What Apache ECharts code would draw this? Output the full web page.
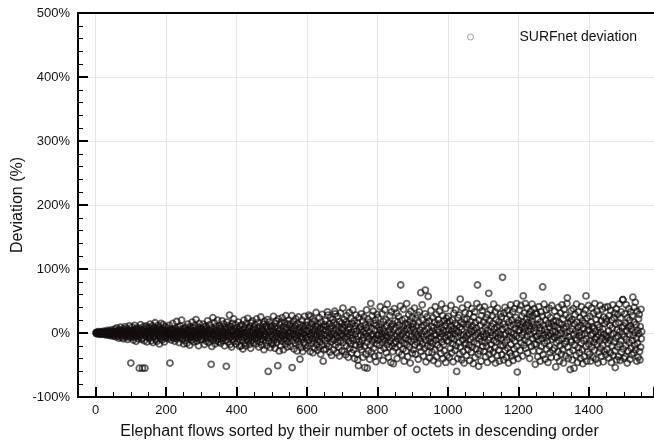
<!DOCTYPE html>
<html>
<head>
<meta charset="utf-8">
<script src="https://cdn.jsdelivr.net/npm/echarts@6/dist/echarts.min.js"></script>
<style>
  html, body { margin: 0; padding: 0; background: #fff; }
  #chart { width: 654px; height: 445px; }
</style>
</head>
<body>
<div id="chart"></div>
<script>
const seriesName = 'SURFnet deviation'
const xName = 'Elephant flows sorted by their number of octets in descending order'
const yName = 'Deviation (%)'
const firstRank = 1
// deviation (%) of each elephant flow, in rank order, 50 flows per row
const deviation = [
  0,1,-1,0,1,-1,0,2,-1,0,1,-2,0,1,-1,2,0,-1,1,-2,0,1,-1,3,-2,0,2,-1,1,-3,0,2,-2,4,-1,1,-3,2,0,-4,3,-1,1,-2,5,-3,0,2,-5,1,
  2,-4,1,6,-2,0,-6,3,-1,8,-3,2,-5,4,0,-8,1,5,-2,-1,9,-4,3,-7,0,2,-3,6,-9,1,4,-2,-5,10,0,-3,7,-6,2,-1,-10,5,3,-4,1,11,-7,0,-2,-47,
  4,-6,1,9,-3,0,-11,5,2,-7,12,-1,-4,6,-13,3,0,8,-5,2,-9,4,-2,-55,7,-6,1,13,-3,-10,5,0,-55,-8,3,10,-2,-12,6,-55,1,-5,11,-4,2,-14,8,-1,4,-7,
  -3,9,-8,2,14,-5,0,-12,6,3,-2,11,-15,4,-6,1,8,-4,16,-10,2,-1,7,-13,5,-3,12,0,-7,3,-17,9,-2,5,-9,15,-5,1,-11,6,-1,13,-6,4,-14,2,10,-8,0,-4,
  3,-5,8,-2,1,-9,4,-1,12,-6,-47,2,-4,6,-11,0,5,-3,15,-7,1,-8,-2,4,-13,7,-1,3,-5,18,-9,2,-6,0,9,-3,-15,5,-1,11,-4,-7,2,20,-2,-10,6,-3,1,-17,
  -4,7,-1,-12,3,9,-6,0,-16,5,-2,14,-8,1,-3,6,-19,-5,10,2,-7,4,-11,17,-1,-4,8,-14,0,3,-9,12,-2,-6,21,1,-13,5,-3,-8,9,-20,2,15,-5,-1,7,-10,4,-2,
  6,-3,-10,2,14,-7,-1,9,-18,4,-5,1,11,-13,-2,7,-8,19,-4,0,-15,5,-1,13,-9,3,-6,-49,8,-21,2,-3,24,-11,6,-1,16,-7,-17,4,-2,10,-12,1,-5,20,-9,3,-14,7,
  -6,11,-2,4,-16,8,-9,1,19,-4,-12,3,-7,14,0,-20,6,-3,9,-11,-52,2,17,-5,-14,7,-1,12,-8,28,-3,-18,5,10,-6,-22,1,15,-10,3,-4,22,-13,6,-1,-7,13,-17,2,-3,
  8,-4,-14,2,17,-9,-1,6,-21,11,-6,3,-20,-2,13,-11,5,-25,0,-7,20,-3,9,-16,1,-20,-5,15,-10,4,-1,23,-13,7,-4,-18,10,-8,2,-24,16,-2,-12,5,19,-6,1,-15,8,-3,
  -9,13,-3,5,-17,1,22,-7,-12,8,-2,16,-22,3,-5,10,-14,-1,25,-9,4,-19,7,-4,-11,14,2,-26,-6,18,-1,9,-15,-3,12,-20,6,21,-8,-60,1,-13,17,-5,3,-23,10,-2,-16,6,
  11,-6,-18,4,26,-12,-2,9,-24,15,-7,1,19,-15,-4,7,-51,-10,22,3,-28,-1,13,-8,6,-20,17,-3,-13,24,-5,2,-26,10,-9,-2,16,-17,5,27,-11,-4,8,-22,14,1,-14,20,-6,-1,
  -8,14,3,-21,9,-3,27,-54,-12,5,-1,18,-25,7,-6,11,-16,22,-2,-9,4,-28,15,-4,-13,25,1,-18,8,-41,-5,13,-23,2,-10,20,-7,-29,10,-1,6,-15,26,-3,-19,12,-8,3,-24,17,
  -6,12,-20,3,28,-11,-2,8,-29,26,-4,15,-16,1,-9,22,-31,6,-13,-1,18,-24,4,11,-7,32,-18,-3,9,-27,14,-10,2,-22,24,-5,-14,7,-33,17,-1,-8,29,-19,5,-44,10,-26,-3,13,
  -12,19,4,-25,-3,10,-17,33,-8,28,1,-21,14,-6,-30,7,24,-14,-2,-35,11,-9,21,3,-26,16,-11,-1,34,30,-19,6,-4,13,-31,-7,26,-15,2,-22,9,-36,18,-5,31,-12,-1,15,-28,5,
  8,39,-15,-4,21,-29,12,-9,2,-34,17,-20,27,-6,-1,14,-38,5,-13,32,-24,9,-3,-17,23,1,-31,15,-8,36,-12,-26,6,19,-40,-2,11,-19,28,-10,3,-33,16,-42,-5,-51,24,-14,7,-22,
  -18,10,-3,30,-26,5,-12,19,-38,2,-7,25,-21,-54,13,-1,-33,8,36,-15,-55,-5,22,-28,11,-9,1,-41,17,-19,46,-4,-30,7,27,-13,-2,34,-24,15,-10,-36,4,20,-8,-45,12,-17,29,-3,
  -11,24,-3,-35,9,-19,4,41,-27,13,-6,-1,30,-15,7,-43,18,-9,-24,2,36,-12,-4,21,-31,11,-18,45,-7,1,-38,16,-22,5,27,-13,-2,-46,10,33,-8,-20,14,-29,-48,6,-16,38,-5,19,
  -23,8,-14,31,-4,-40,17,-9,2,26,-30,12,-19,-6,42,75,-12,5,-34,20,-1,-25,10,37,-16,-44,3,22,-8,15,-28,-3,46,-18,7,-37,13,-11,29,-2,-22,18,-47,4,34,-13,-6,24,-32,9,
  14,-26,6,-10,39,-19,1,-33,23,-5,11,-57,-15,28,-2,-41,17,-8,33,-22,4,-13,63,-29,9,-1,44,-17,20,-36,-6,12,-24,3,30,67,-11,-45,16,-3,25,-20,7,57,-30,-9,19,-39,1,-14,
  -21,35,-7,10,-30,3,-16,24,-43,8,-2,17,-26,41,-11,-4,29,-37,13,-19,6,-48,21,-9,1,34,-23,15,-6,-32,9,45,-14,-1,27,-40,4,-18,19,-28,12,-7,38,-46,2,23,-12,-35,16,-3,
  26,-13,5,-38,18,-2,-24,11,43,-8,-31,3,20,-17,-45,7,31,-10,-1,-27,15,36,-20,4,-60,12,-6,-40,24,1,-15,28,-33,9,53,-22,-4,17,-42,6,39,-11,-29,14,-3,-47,21,-18,32,-7,
  -16,9,-35,22,-4,44,-26,13,-1,-19,30,-43,6,-10,18,-30,2,38,-22,11,-7,-48,25,-14,4,33,-38,16,-3,-25,8,46,-17,75,1,-33,-52,20,-9,40,-28,12,-5,-44,27,-13,3,35,-21,-2,
  17,-29,-6,41,-15,8,-37,24,-2,-21,13,-46,29,4,-11,62,-33,19,-7,-26,36,1,-18,10,-41,27,-4,15,-30,45,-12,6,-23,33,-47,-1,21,-14,9,-35,39,-8,2,-27,18,-44,12,-3,30,-19,
  -9,25,-34,6,87,-20,14,-42,31,-3,-15,40,-27,9,-1,-38,22,-11,35,-24,3,-47,17,-6,28,-31,11,44,-18,1,-36,20,-8,33,-43,13,-2,-25,38,-13,7,-33,24,-5,46,-21,-61,15,-40,4,
  20,-8,36,4,-27,14,43,-15,9,26,-3,-36,17,58,1,-19,31,7,-11,46,-24,12,22,-5,39,-31,16,3,-14,29,11,-40,24,-2,34,6,-21,18,45,-9,27,-28,13,2,38,-17,8,-49,31,-6,
  -18,30,-5,13,-37,22,-11,41,-1,-28,8,-44,17,33,-21,4,-9,26,72,-34,12,-3,45,-16,6,-41,20,-7,36,-25,1,-13,28,-46,15,-4,39,-20,9,-31,24,-1,-38,14,43,-10,3,-27,18,-6,
  11,-24,34,-7,2,-53,19,-15,-38,26,-3,8,-29,40,-12,16,-44,5,-20,31,-1,-33,13,44,-9,-26,22,-47,7,37,-17,-4,28,-36,10,-13,1,46,55,-22,15,-40,-6,24,-30,3,-57,18,-11,35,
  -14,21,-42,6,-27,38,-2,-55,14,-19,29,-8,3,-35,45,-11,17,-46,9,-23,33,-5,-31,1,24,-40,12,-16,41,-3,-26,19,-48,7,30,-12,-37,15,-1,36,-21,58,-9,-44,23,4,-30,11,43,-18,
  5,-33,26,-12,-44,17,-4,39,-22,10,-1,-38,31,-15,7,-27,46,-9,2,-41,21,-6,34,-18,13,-47,-3,28,-30,9,-13,43,-24,1,19,-36,-8,37,-19,6,-45,25,-2,-29,15,40,-11,-34,22,-5,
  18,-26,-7,41,-16,3,-39,27,-11,12,-31,35,-3,-46,20,-20,8,44,-35,-1,24,-14,31,-28,-54,14,-8,38,-42,5,-22,29,-5,-37,16,45,-18,2,-43,23,-12,33,-30,9,-2,52,52,-25,11,-40,
  -6,30,-37,15,-20,44,-10,3,-47,24,-28,9,38,-15,-2,20,-41,11,33,-24,6,-34,27,-12,56,-4,-31,17,40,-19,1,48,-26,13,-8,-44,34,-16,4,-38,22,-1,29,-29,-42,10,-22,37,-9,2
]

const points = deviation.map((v, i) => [firstRank + i, v])
const fontFamily = '"Liberation Sans", Arial, Helvetica, sans-serif'
const XMIN = -50
const XMAX = 1585
const black = { color: '#000', width: 2 }
const thin = { color: '#000', width: 1 }

const chart = echarts.init(document.getElementById('chart'), null, { renderer: 'canvas' })
chart.setOption({
  animation: false,
  textStyle: { fontFamily: fontFamily },
  grid: { left: 78, right: 0, top: 13, bottom: 48 },
  legend: {
    data: [seriesName],
    left: 462,
    top: 25,
    itemWidth: 88,
    itemHeight: 6,
    itemStyle: { color: 'rgba(0,0,0,0)', borderColor: '#8a8a8a', borderWidth: 1 },
    textStyle: { fontSize: 14, color: '#111', fontFamily: fontFamily }
  },
  xAxis: [
    {
      type: 'value',
      min: XMIN,
      max: XMAX,
      splitNumber: 8,
      position: 'bottom',
      name: xName,
      nameLocation: 'middle',
      nameGap: 27,
      nameMoveOverlap: false,
      nameTextStyle: { fontSize: 16, color: '#111', padding: [0, 13, 0, 0] },
      axisLine: { onZero: false, lineStyle: black },
      axisTick: { inside: true, length: 10, lineStyle: black },
      minorTick: { show: true, splitNumber: 4, length: 5, lineStyle: thin },
      axisLabel: { showMinLabel: false, showMaxLabel: false, fontSize: 13, color: '#111', margin: 7, formatter: v => String(v) },
      splitLine: { show: true, lineStyle: { color: '#e6e6e6', width: 1 } }
    },
    {
      type: 'value',
      min: XMIN,
      max: XMAX,
      position: 'top',
      axisLine: { onZero: false, lineStyle: black },
      axisTick: { show: false },
      axisLabel: { show: false },
      splitLine: { show: false }
    }
  ],
  yAxis: {
    type: 'value',
    min: -100,
    max: 500,
    interval: 100,
    name: yName,
    nameLocation: 'middle',
    nameGap: 52,
    nameMoveOverlap: false,
    nameTextStyle: { fontSize: 16, color: '#111' },
    axisLine: { show: true, onZero: false, lineStyle: black },
    axisTick: { inside: true, length: 10, lineStyle: black },
    minorTick: { show: true, splitNumber: 5, length: 5, lineStyle: thin },
    axisLabel: { formatter: '{value}%', fontSize: 13, color: '#111', margin: 8 },
    splitLine: { show: true, lineStyle: { color: '#e6e6e6', width: 1 } }
  },
  series: [
    {
      name: seriesName,
      type: 'scatter',
      xAxisIndex: 0,
      symbol: 'circle',
      symbolSize: 6,
      itemStyle: {
        color: 'rgba(0,0,0,0)',
        borderColor: 'rgba(20,14,14,0.82)',
        borderWidth: 1.8
      },
      emphasis: { disabled: true },
      data: points
    }
  ]
})
</script>
</body>
</html>
